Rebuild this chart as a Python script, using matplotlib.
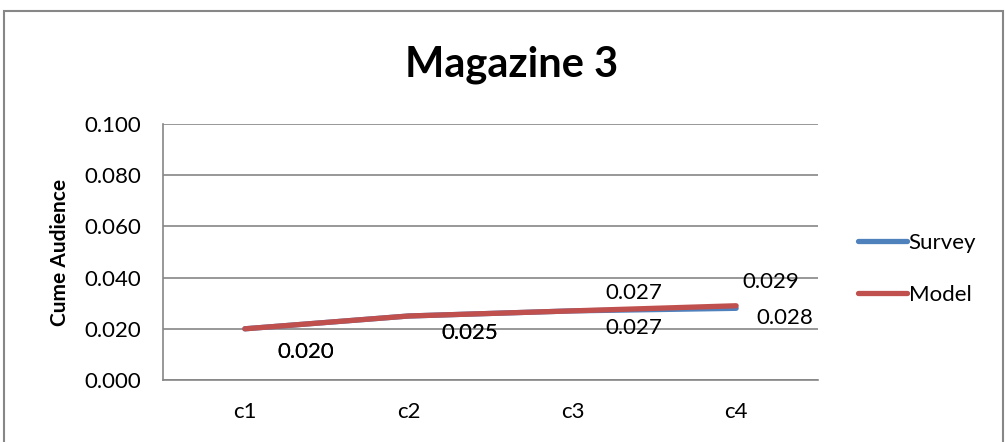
import matplotlib.pyplot as plt
from matplotlib.patches import Rectangle

plt.rcParams['font.family'] = ['Lato', 'DejaVu Sans']

categories = ['c1', 'c2', 'c3', 'c4']
survey = [0.020, 0.025, 0.027, 0.028]
model = [0.020, 0.025, 0.027, 0.029]
yticks = [0.000, 0.020, 0.040, 0.060, 0.080, 0.100]

# label offsets (points) for each data label
survey_off = [(44, -17), (44, -12), (44, -12), (35, -7)]
model_off = [(44, -17), (44, -12), (44, 13), (25, 17)]

fig = plt.figure(figsize=(10.05, 4.42), dpi=100)
fig.patches.append(Rectangle((4/1005, -0.1), 999/1005, 1 - 11/442 + 0.1,
                             transform=fig.transFigure, fill=False,
                             edgecolor='#878787', linewidth=1.5))

ax = fig.add_axes([163/1005, 62/442, 655/1005, 256/442])
x = range(len(categories))
ax.plot(x, survey, color='#4F81BD', linewidth=3.8, solid_capstyle='round', label='Survey')
ax.plot(x, model, color='#C0504D', linewidth=3.8, solid_capstyle='round', label='Model')

for i in x:
    ax.annotate('%.3f' % survey[i], (i, survey[i]), xytext=survey_off[i],
                textcoords='offset points', ha='center', va='center', fontsize=16)
    ax.annotate('%.3f' % model[i], (i, model[i]), xytext=model_off[i],
                textcoords='offset points', ha='center', va='center', fontsize=16)

ax.set_xlim(-0.5, 3.5)
ax.set_ylim(0, 0.1)
ax.set_yticks(yticks)
ax.set_yticklabels(['%.3f' % v for v in yticks], fontsize=16)
ax.set_xticks(list(x))
ax.set_xticklabels(categories, fontsize=16)
ax.tick_params(axis='both', length=0)
ax.tick_params(axis='x', pad=16)
ax.tick_params(axis='y', pad=16)
ax.grid(axis='y', color='#868686', linewidth=1.2)
ax.set_axisbelow(True)
for side in ['top', 'right']:
    ax.spines[side].set_visible(False)
for side in ['left', 'bottom']:
    ax.spines[side].set_color('#868686')
    ax.spines[side].set_linewidth(1.2)

ax.set_ylabel('Cume Audience', fontsize=15, fontweight='bold', labelpad=10)
fig.text(512/1005, 1 - 65/442, 'Magazine 3', ha='center', va='center',
         fontsize=30, fontweight='bold')

ax.legend(loc='center left', bbox_to_anchor=(1.03, 0.435), frameon=False,
          fontsize=16, handlelength=2.2, handletextpad=0.1, labelspacing=1.45)

fig.savefig('out.png', dpi=100)
